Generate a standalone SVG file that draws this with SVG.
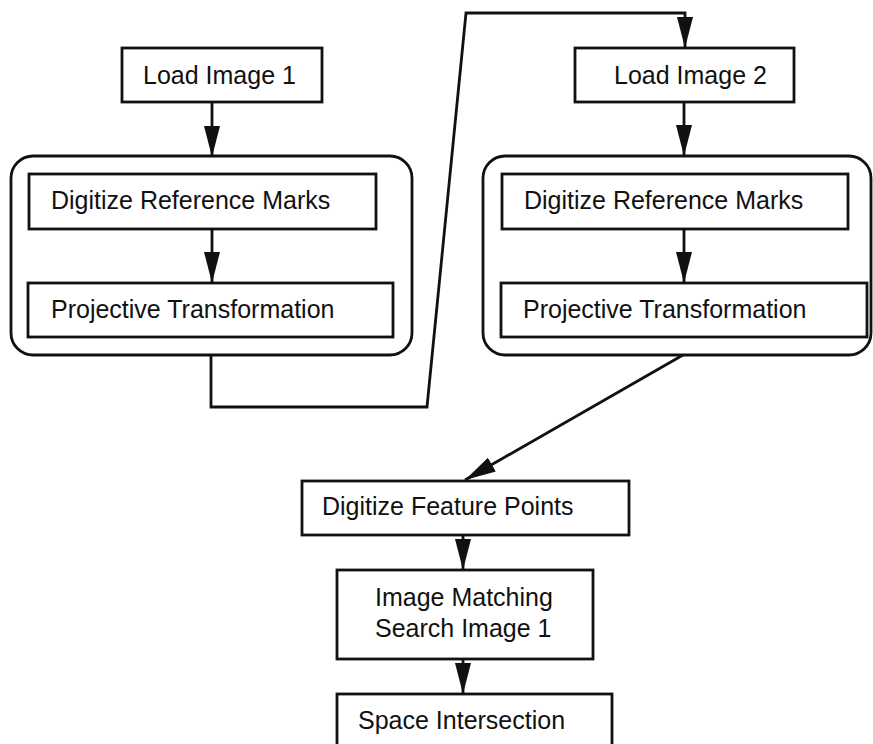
<svg xmlns="http://www.w3.org/2000/svg" width="873" height="744" viewBox="0 0 873 744">
<style>
.box{fill:#fff;stroke:#111;stroke-width:2.8}
.grp{fill:none;stroke:#111;stroke-width:2.8}
.t{font-family:"Liberation Sans",Arial,sans-serif;font-size:25px;fill:#111}
.c{fill:none;stroke:#111;stroke-width:2.8}
</style>
<defs>
<marker id="ah" markerUnits="userSpaceOnUse" markerWidth="34" markerHeight="18" refX="31" refY="8" orient="auto">
<path d="M0,0 L31,8 L0,16 z" fill="#111"/>
</marker>
</defs>
<rect width="873" height="744" fill="#fff"/>
<g id="group1"><rect class="grp" x="11" y="156" width="401" height="199" rx="22"/></g>
<g id="group2"><rect class="grp" x="483" y="156" width="388" height="199" rx="22"/></g>
<g id="load1"><rect class="box" x="122" y="48" width="200" height="54"/><text class="t" x="143" y="84">Load Image 1</text></g>
<g id="digref1"><rect class="box" x="29" y="174" width="347" height="55"/><text class="t" x="51" y="209">Digitize Reference Marks</text></g>
<g id="proj1"><rect class="box" x="28" y="283" width="365" height="54"/><text class="t" x="51" y="318">Projective Transformation</text></g>
<g id="load2"><rect class="box" x="575" y="48" width="219" height="54"/><text class="t" x="614" y="84">Load Image 2</text></g>
<g id="digref2"><rect class="box" x="502" y="174" width="346" height="55"/><text class="t" x="524" y="209">Digitize Reference Marks</text></g>
<g id="proj2"><rect class="box" x="501" y="283" width="366" height="54"/><text class="t" x="523" y="318">Projective Transformation</text></g>
<g id="feature"><rect class="box" x="302" y="481" width="327" height="54"/><text class="t" x="322" y="515">Digitize Feature Points</text></g>
<g id="matching"><rect class="box" x="337" y="570" width="256" height="89"/><text class="t" x="375" y="606">Image Matching</text><text class="t" x="375" y="637">Search Image 1</text></g>
<g id="space"><rect class="box" x="337" y="694" width="275" height="70"/><text class="t" x="358" y="729">Space Intersection</text></g>
<g id="connectors">
<path class="c" d="M212,102 V157" marker-end="url(#ah)"/>
<path class="c" d="M212,229 V283" marker-end="url(#ah)"/>
<path class="c" d="M211,355 V407 H427 L466,13 H685 V48" marker-end="url(#ah)"/>
<path class="c" d="M684,102 V156" marker-end="url(#ah)"/>
<path class="c" d="M684,229 V283" marker-end="url(#ah)"/>
<path class="c" d="M683,355 L465,480" marker-end="url(#ah)"/>
<path class="c" d="M463,535 V570" marker-end="url(#ah)"/>
<path class="c" d="M463,659 V694" marker-end="url(#ah)"/>
</g>
</svg>
